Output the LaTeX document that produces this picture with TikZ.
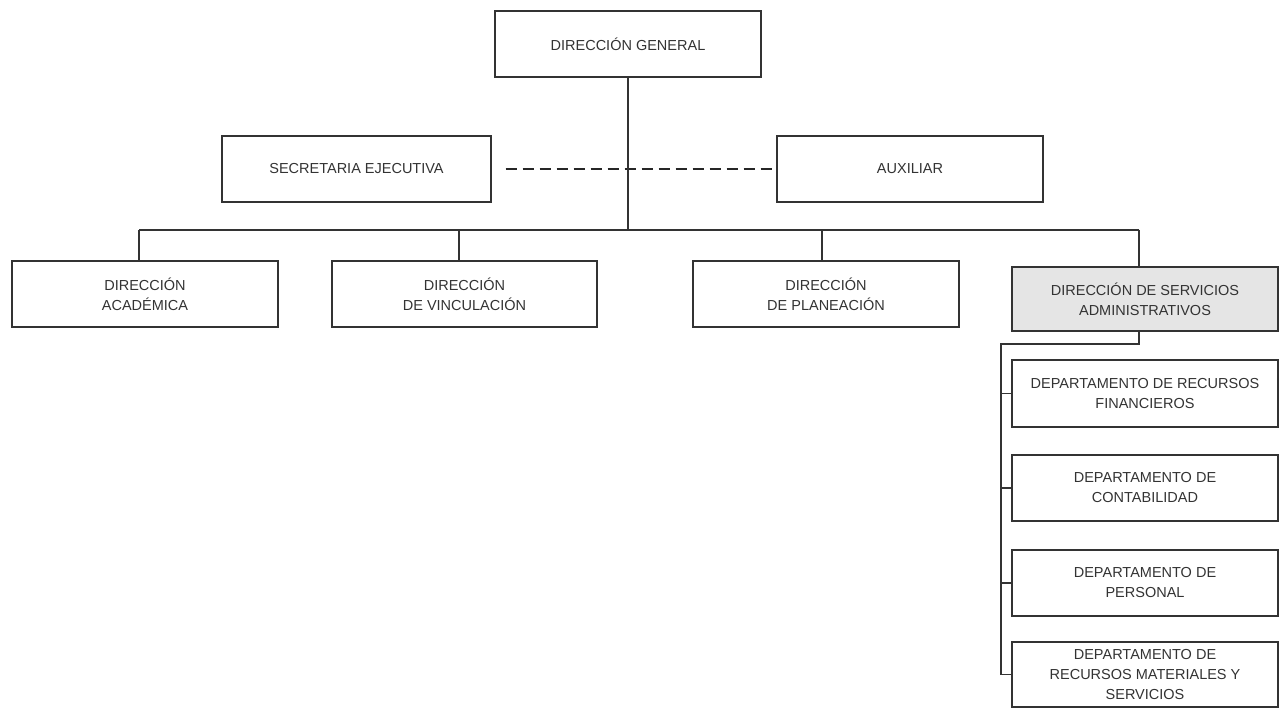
\documentclass[tikz,border=0pt]{standalone}
\usepackage{fontspec}
\setmainfont{Liberation Sans}
\begin{document}
\begin{tikzpicture}[x=1pt,y=-1pt,
  box/.style={draw=black!80, line width=1.2pt, rectangle, inner sep=0pt, align=center,
    text=black!80, font=\fontsize{14.5}{20}\selectfont, fill=white},
  wire/.style={draw=black!80, line width=1.2pt},
  dashwire/.style={draw=black!85, line width=2.8pt, dash pattern=on 11pt off 6pt}]
\fill[white] (0,0) rectangle (1279,708);
\useasboundingbox (0,0) rectangle (1279,708);
% nodes
\node[box, minimum width=266pt, minimum height=66pt] (dg) at (628,44) {DIRECCIÓN GENERAL};
\node[box, minimum width=269pt, minimum height=66pt] (sec) at (356.5,169) {SECRETARIA EJECUTIVA};
\node[box, minimum width=266pt, minimum height=66pt] (aux) at (910,169) {AUXILIAR};
\node[box, minimum width=266pt, minimum height=66pt] (aca) at (145,294) {DIRECCIÓN\\ACADÉMICA};
\node[box, minimum width=265pt, minimum height=66pt] (vin) at (464.5,294) {DIRECCIÓN\\DE VINCULACIÓN};
\node[box, minimum width=266pt, minimum height=66pt] (pla) at (826,294) {DIRECCIÓN\\DE PLANEACIÓN};
\node[box, fill=black!10, minimum width=266pt, minimum height=64pt] (ser) at (1145,299) {DIRECCIÓN DE SERVICIOS\\ADMINISTRATIVOS};
\node[box, minimum width=266pt, minimum height=67pt] (d1) at (1145,393.5) {DEPARTAMENTO DE RECURSOS\\FINANCIEROS};
\node[box, minimum width=266pt, minimum height=66pt] (d2) at (1145,488) {DEPARTAMENTO DE\\CONTABILIDAD};
\node[box, minimum width=266pt, minimum height=66pt] (d3) at (1145,583) {DEPARTAMENTO DE\\PERSONAL};
\node[box, minimum width=266pt, minimum height=65pt] (d4) at (1145,674.5) {DEPARTAMENTO DE\\RECURSOS MATERIALES Y\\SERVICIOS};
% coordinates
\coordinate (trunk) at (628,230);
\coordinate (b1) at (139,230);
\coordinate (b2) at (459,230);
\coordinate (b3) at (822,230);
\coordinate (b4) at (1139,230);
\coordinate (s1) at (1139,344);
\coordinate (s2) at (1001,344);
% connectors
\draw[dashwire] ([xshift=14pt]sec.east) -- (aux.west);
\draw[wire] (dg.south) -- (trunk);
\draw[wire] (b1) -- (b4);
\draw[wire] (b1) -- (b1 |- aca.north);
\draw[wire] (b2) -- (b2 |- vin.north);
\draw[wire] (b3) -- (b3 |- pla.north);
\draw[wire] (b4) -- (b4 |- ser.north);
\draw[wire] (s1 |- ser.south) -- (s1) -- (s2) -- (s2 |- d4.west) -- (d4.west);
\draw[wire] (s2 |- d1.west) -- (d1.west);
\draw[wire] (s2 |- d2.west) -- (d2.west);
\draw[wire] (s2 |- d3.west) -- (d3.west);
\end{tikzpicture}
\end{document}
